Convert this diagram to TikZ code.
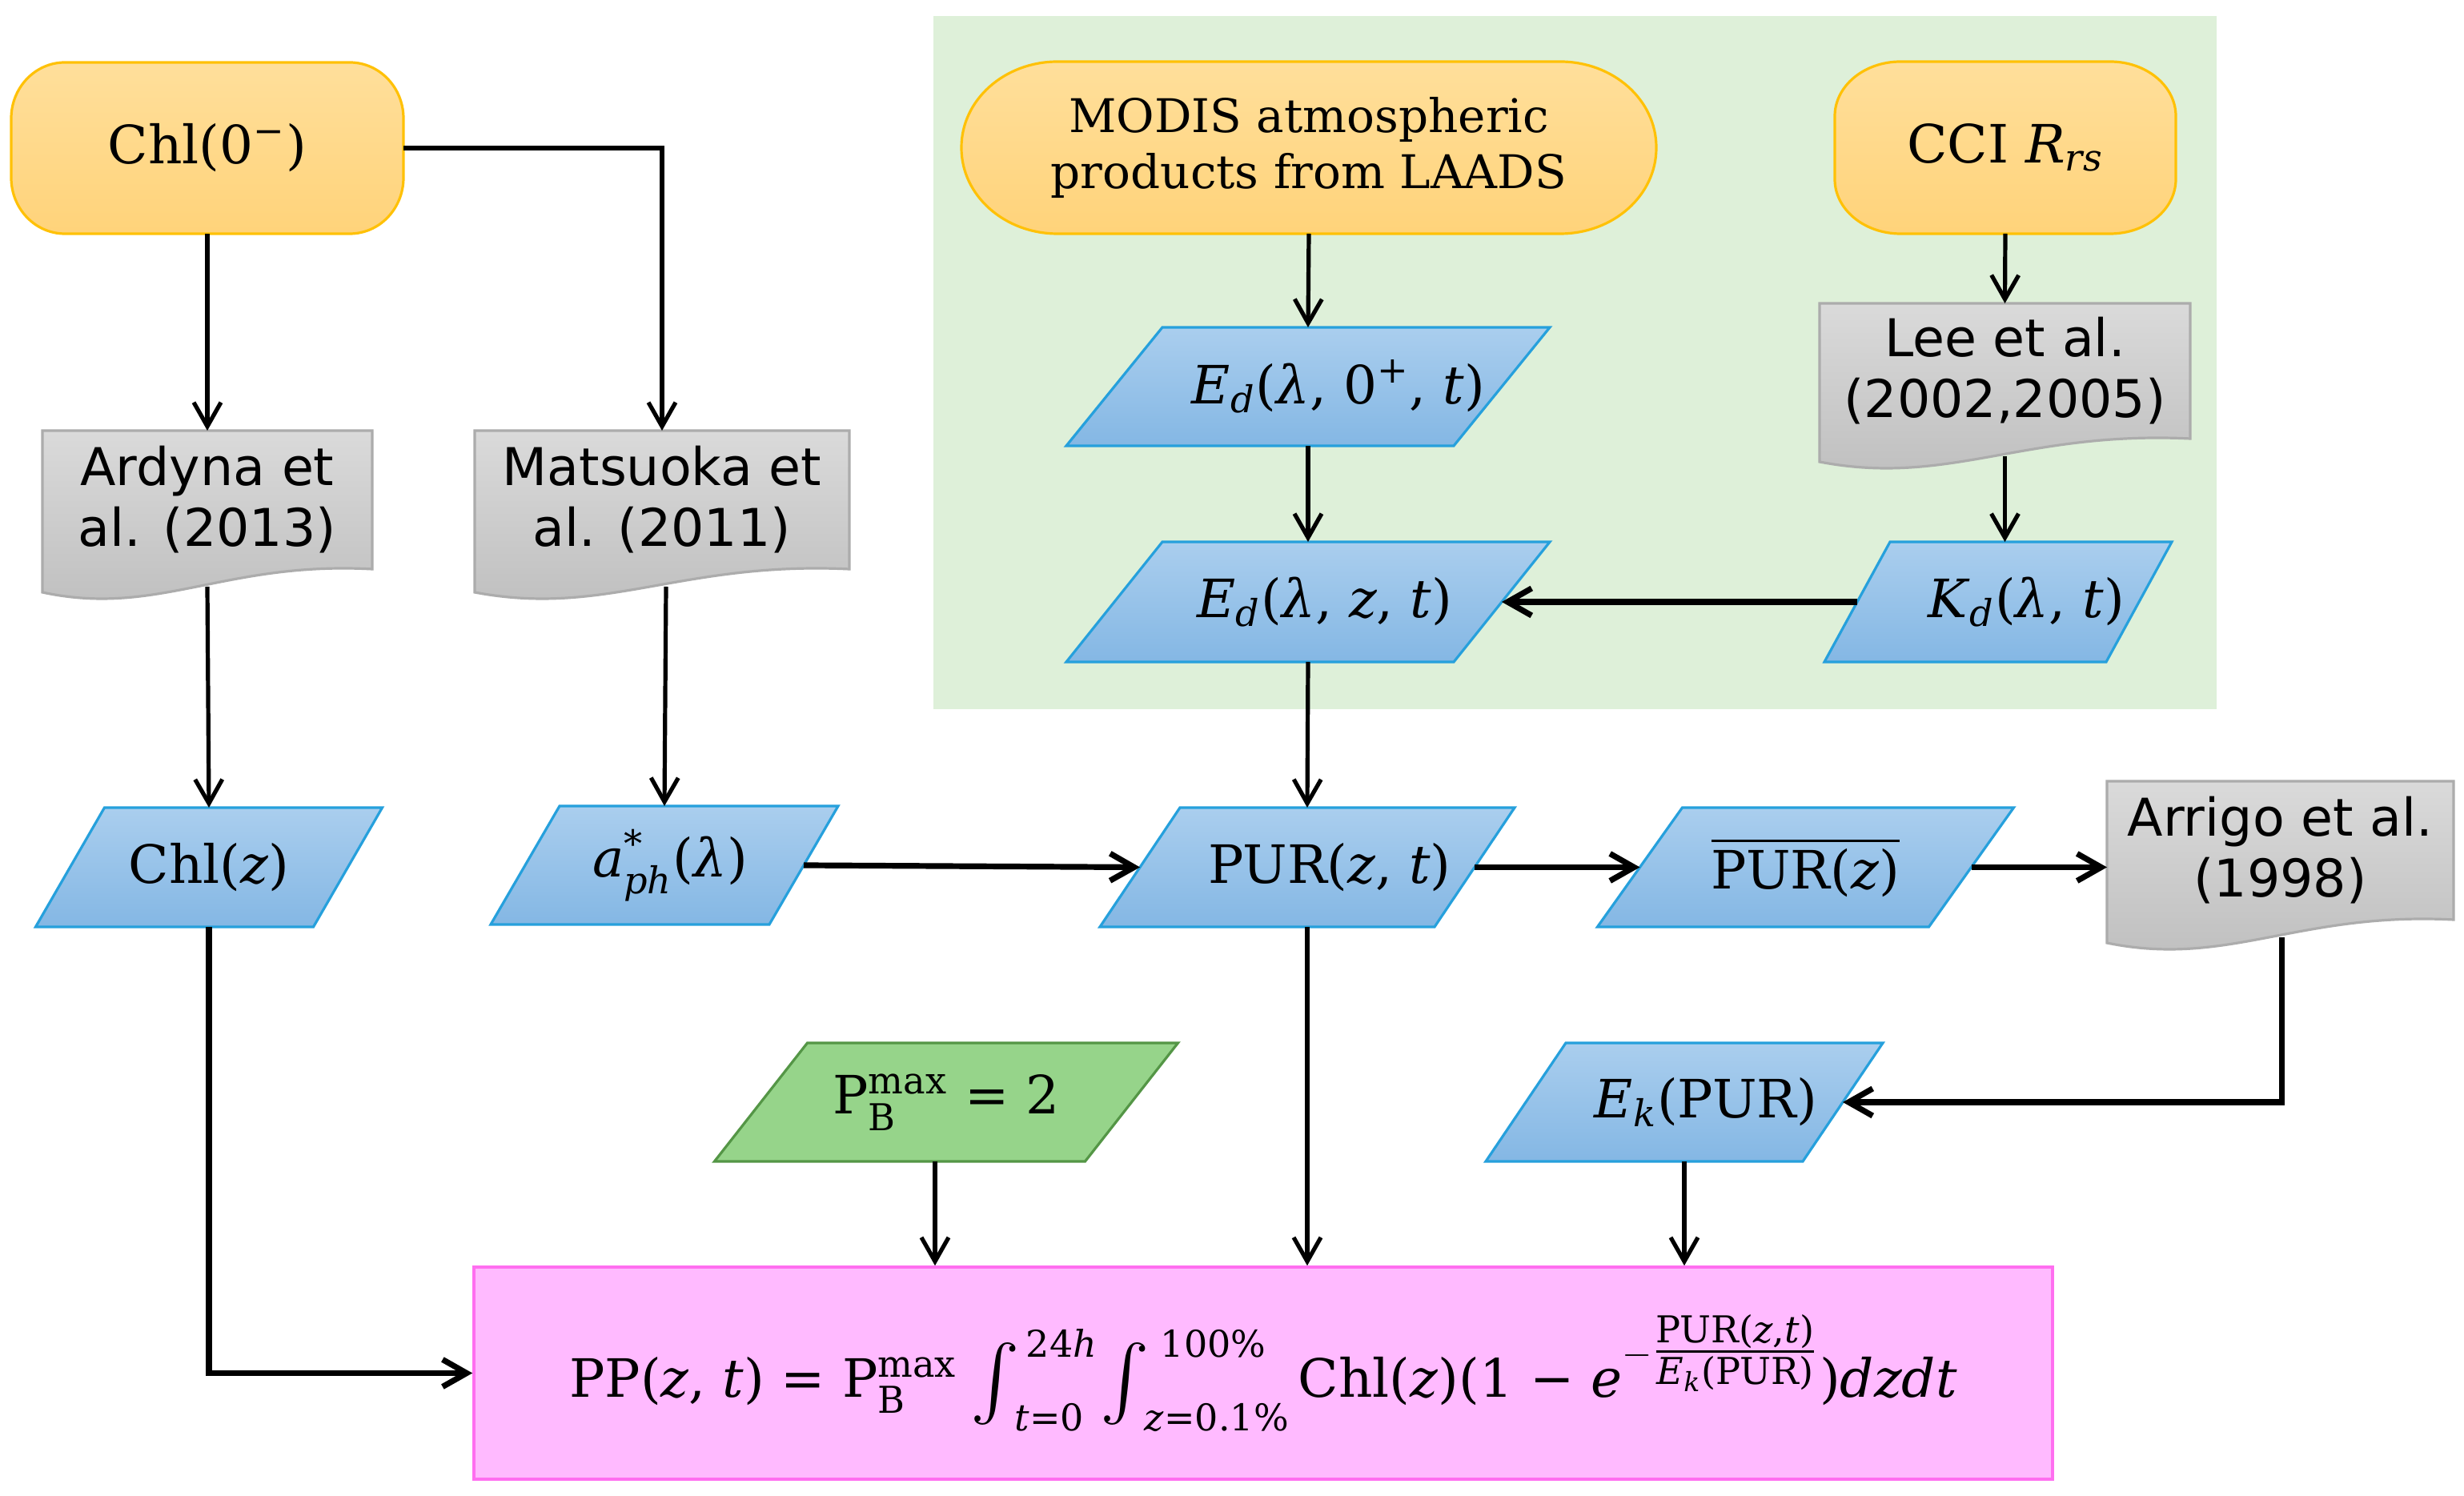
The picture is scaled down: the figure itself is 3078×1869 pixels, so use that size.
\documentclass[tikz,border=0pt]{standalone}
\usepackage{amsmath}
\usepackage{graphicx}
\usepackage{fontspec}
\setmainfont{DejaVu Serif}
\newfontfamily\sansf{DejaVu Sans}
\usetikzlibrary{arrows.meta,calc}
\pgfdeclarelayer{bgzero}
\pgfdeclarelayer{bgone}
\pgfsetlayers{bgzero,bgone,main}
\newcommand\vi[1]{\text{\itshape #1}}
\newcommand\vr[1]{\text{\upshape #1}}
\newcommand\limfont{\fontsize{11.5}{11.5}\selectfont}
% #1 lower limit, #2 upper limit, #3 shift of the upper limit
\newcommand\intlim[3]{\mbox{\raisebox{-1.5pt}{\scalebox{1.34}{$\textstyle\int$}}\kern-1.5pt\rlap{\kern#3\raisebox{12.5pt}{\limfont #2}}\raisebox{-10.5pt}{\limfont #1}}}
\definecolor{orFa}{RGB}{255,223,155}
\definecolor{orFb}{RGB}{255,211,122}
\definecolor{orD}{RGB}{255,193,7}
\definecolor{blFa}{RGB}{170,206,238}
\definecolor{blFb}{RGB}{132,183,228}
\definecolor{blD}{RGB}{38,160,220}
\definecolor{grFa}{RGB}{218,218,218}
\definecolor{grFb}{RGB}{190,190,190}
\definecolor{grD}{RGB}{172,172,172}
\definecolor{bgG}{RGB}{222,240,217}
\definecolor{gnF}{RGB}{150,212,138}
\definecolor{gnD}{RGB}{84,150,70}
\definecolor{pkF}{RGB}{255,186,255}
\definecolor{pkD}{RGB}{255,110,240}
\tikzset{
  mathtxt/.style={font=\fontsize{16.5}{20}\selectfont},
  serif/.style={font=\fontsize{14.5}{17.5}\selectfont, align=center},
  sanstxt/.style={font=\sansf\fontsize{16.25}{19}\selectfont, align=center},
  stadshape/.style={draw=orD, line width=0.8pt, top color=orFa, bottom color=orFb},
  stad/.style={inner sep=0pt, outer sep=0pt},
  plabel/.style={inner sep=0pt, outer sep=0pt, mathtxt},
  doclabel/.style={inner sep=0pt, outer sep=0pt, sanstxt},
  bluepara/.style={draw=blD, line width=0.8pt, top color=blFa, bottom color=blFb},
  greenpara/.style={draw=gnD, line width=0.8pt, fill=gnF},
  docshape/.style={draw=grD, line width=0.8pt, top color=grFa, bottom color=grFb},
  arr/.style={draw, line width=1.3pt, -{Straight Barb[length=7.5pt,width=8.5pt]}},
  arrT/.style={draw, line width=1.8pt, -{Straight Barb[length=7.5pt,width=8.5pt]}},
}
\newcommand\drawpara[3]{%
  \begin{pgfonlayer}{bgone}
  \path[#3] ($(#1.north west)+(#2,0)$) -- ($(#1.north east)+(#2,0)$) -- ($(#1.south east)+(-#2,0)$) -- ($(#1.south west)+(-#2,0)$) -- cycle;
  \end{pgfonlayer}}
\newcommand\drawdoc[1]{%
  \begin{pgfonlayer}{bgone}
  \path[docshape] (#1.north west) -- (#1.north east) -- (#1.south east)
    .. controls ($(#1.south west)!0.55!(#1.south east)+(0,-10)$) and ($(#1.south west)!0.35!(#1.south east)+(0,60)$) .. ($(#1.south west)+(0,29)$) -- cycle;
  \end{pgfonlayer}}
\newcommand\drawstad[3]{%
  \begin{pgfonlayer}{bgone}
  \path[stadshape] ($(#1.north west)+(#2,0)$) -- ($(#1.north east)+(-#2,0)$)
    .. controls ($(#1.north east)+(-0.4477*#2,0)$) and ($(#1.north east)+(0,0.4477*#3)$) .. ($(#1.north east)+(0,#3)$)
    -- ($(#1.south east)+(0,-#3)$)
    .. controls ($(#1.south east)+(0,-0.4477*#3)$) and ($(#1.south east)+(-0.4477*#2,0)$) .. ($(#1.south east)+(-#2,0)$)
    -- ($(#1.south west)+(#2,0)$)
    .. controls ($(#1.south west)+(0.4477*#2,0)$) and ($(#1.south west)+(0,-0.4477*#3)$) .. ($(#1.south west)+(0,-#3)$)
    -- ($(#1.north west)+(0,#3)$)
    .. controls ($(#1.north west)+(0,0.4477*#3)$) and ($(#1.north west)+(0.4477*#2,0)$) .. ($(#1.north west)+(#2,0)$) -- cycle;
  \end{pgfonlayer}}
\begin{document}
\begin{tikzpicture}[x=0.25pt,y=-0.25pt]
\useasboundingbox (0,0) rectangle (3078,1869);
\begin{pgfonlayer}{bgzero}
\fill[white] (0,0) rectangle (3078,1869);
\fill[bgG] (1166,20) rectangle (2769,886);
\end{pgfonlayer}
% stadiums
\node[stad, mathtxt, minimum width=122.5pt, minimum height=53.5pt] (chl0) at (259,185) {Chl(0\textsuperscript{−})};
\node[stad, serif, minimum width=217pt, minimum height=53.75pt] (modis) at (1635,184.5) {MODIS atmospheric\\products from LAADS};
\node[stad, mathtxt, minimum width=106.5pt, minimum height=53.75pt] (cci) at (2505,184.5) {CCI \textit{R}\textsubscript{\textit{rs}}};
\drawstad{chl0}{67}{70}
\drawstad{modis}{120}{107}
\drawstad{cci}{82}{68}
% documents
\node[doclabel, minimum width=103pt, minimum height=43.25pt] (ardyna) at (259,624.5) {Ardyna et\\al. (2013)};
\node[doclabel, minimum width=117pt, minimum height=43.25pt] (matsuoka) at (827,624.5) {Matsuoka et\\al. (2011)};
\node[doclabel, minimum width=115.75pt, minimum height=42.25pt] (lee) at (2504.5,463.5) {Lee et al.\\(2002,2005)};
\node[doclabel, minimum width=108.25pt, minimum height=43.25pt] (arrigo) at (2848.5,1062.5) {Arrigo et al.\\(1998)};
\drawdoc{ardyna}
\drawdoc{matsuoka}
\drawdoc{lee}
\drawdoc{arrigo}
% parallelograms
\node[plabel, minimum width=121pt, minimum height=37pt] (ed0) at (1634,483) {\hspace*{19pt}\textit{E}\textsubscript{\textit{d}}(\textit{λ}, 0\textsuperscript{+}, \textit{t})};
\node[plabel, minimum width=121pt, minimum height=37.5pt] (edz) at (1634,752) {\hspace*{10.5pt}\textit{E}\textsubscript{\textit{d}}(\textit{λ}, \textit{z}, \textit{t})};
\node[plabel, minimum width=88pt, minimum height=37.5pt] (kd) at (2496,752) {\hspace*{17.5pt}\textit{K}\textsubscript{\textit{d}}(\textit{λ}, \textit{t})};
\node[plabel, minimum width=86.75pt, minimum height=37.25pt] (chlz) at (261,1083.5) {Chl(\textit{z})};
\node[plabel, minimum width=87pt, minimum height=37pt] (aph) at (830,1081) {\hspace*{3.5pt}\textit{a}$^{\vr{*}}_{\vi{ph}}$(\textit{λ})};
\node[plabel, minimum width=104.5pt, minimum height=37.25pt] (pur) at (1633,1083.5) {\hspace*{14pt}PUR(\textit{z}, \textit{t})};
\node[plabel, minimum width=103.5pt, minimum height=37.25pt] (purbar) at (2255.5,1083.5) {$\overline{\vr{PUR(\textit{z})}}$};
\node[plabel, minimum width=115.75pt, minimum height=37pt] (pmax) at (1182,1377) {P$^{\vr{max}}_{\vr{B}}$ = 2};
\node[plabel, minimum width=99pt, minimum height=37pt] (ek) at (2104,1377) {\hspace*{13.5pt}\textit{E}\textsubscript{\textit{k}}(PUR)};
\drawpara{ed0}{60}{bluepara}
\drawpara{edz}{60}{bluepara}
\drawpara{kd}{41}{bluepara}
\drawpara{chlz}{43}{bluepara}
\drawpara{aph}{43}{bluepara}
\drawpara{pur}{50}{bluepara}
\drawpara{purbar}{53}{bluepara}
\drawpara{pmax}{58}{greenpara}
\drawpara{ek}{50}{bluepara}
% result box
\node[draw=pkD, fill=pkF, line width=0.9pt, inner sep=0pt, mathtxt, minimum width=493pt, minimum height=66.25pt] (pp) at (1578,1715.5)
  {PP(\textit{z}, \textit{t}) = P$^{\vr{max}}_{\vr{B}}$\kern4pt\intlim{\textit{t}=0}{24\textit{h}}{3.5pt}\kern5pt\intlim{\textit{z}=0.1\%}{100\%}{5pt}\kern3pt Chl(\textit{z})(1 − \textit{e}$^{-\genfrac{}{}{}{1}{\vr{PUR(}\vi{z}\vr{,}\vi{t}\vr{)}}{\vi{E}_{\vi{k}}\vr{(PUR)}}}$)\textit{dzdt}};
% connectors
\coordinate (ardynaout) at ($(ardyna.south)+(0,22)$);
\coordinate (matsout) at ($(matsuoka.south)+(5,22)$);
\coordinate (leeout) at ($(lee.south)+(0,22)$);
\coordinate (arrigoout) at ($(arrigo.south)+(2,22)$);
\coordinate (pmaxout) at ($(pmax.south)+(-14,0)$);
\draw[arr] (chl0.south) -- (ardyna.north);
\draw[arr] (chl0.east) -| (matsuoka.north);
\draw[arr] (ardynaout) -- (chlz.north);
\draw[arr] (matsout) -- (aph.north);
\draw[arr] (modis.south) -- (ed0.north);
\draw[arr] (ed0.south) -- (edz.north);
\draw[arr] (cci.south) -- (lee.north);
\draw[arr] (leeout) -- (leeout |- kd.north);
\draw[arrT] (kd.west) -- (edz.east);
\draw[arr] (edz.south) -- (pur.north);
\draw[arrT] (aph.east) -- (pur.west);
\draw[arrT] (pur.east) -- (purbar.west);
\draw[arrT] (purbar.east) -- (purbar.east -| arrigo.west);
\draw[arrT] (arrigoout) |- (ek.east);
\draw[arrT] (chlz.south) |- (pp.west);
\draw[arr] (pmaxout) -- (pmaxout |- pp.north);
\draw[arr] (pur.south) -- (pur.south |- pp.north);
\draw[arr] (ek.south) -- (ek.south |- pp.north);
\end{tikzpicture}
\end{document}
